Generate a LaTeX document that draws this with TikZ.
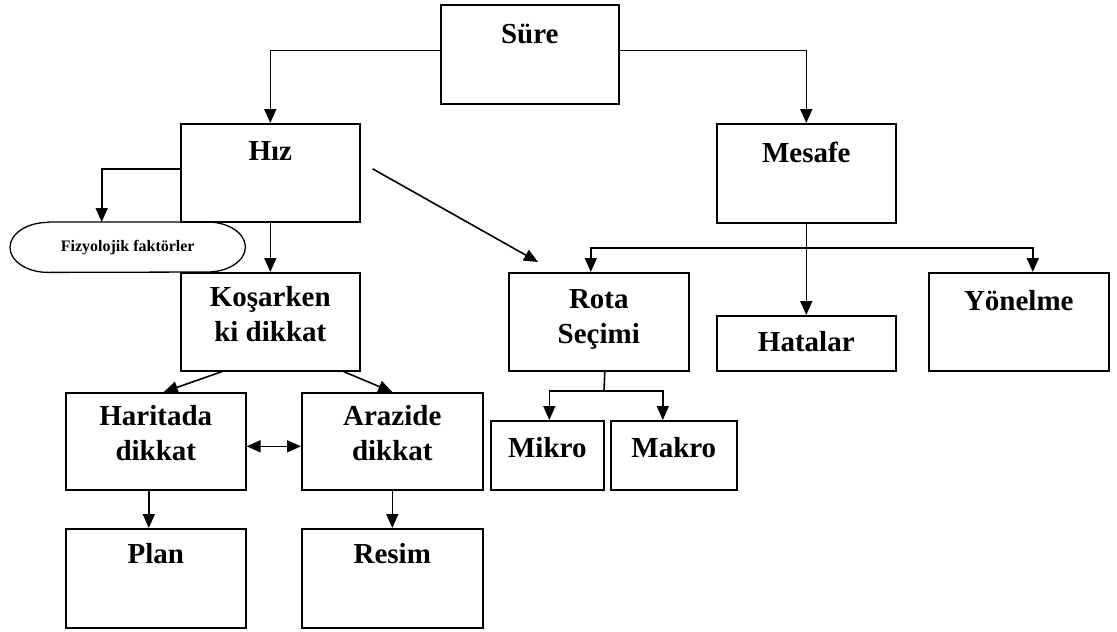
\documentclass[tikz,border=0pt]{standalone}
\usepackage{fontspec}
\setmainfont{Liberation Serif}
\usetikzlibrary{arrows.meta}
\begin{document}
\begin{tikzpicture}[x=1pt,y=-1pt,
  box/.style={draw, line width=1.6pt, inner sep=0pt, anchor=north west},
  lbl/.style={font=\bfseries\fontsize{29}{35}\selectfont, align=center, anchor=base, inner sep=0pt},
  small/.style={font=\bfseries\fontsize{16}{18}\selectfont, inner sep=0pt},
  arr/.style={line width=1.6pt, -{Triangle[width=12pt,length=14pt]}},
  darr/.style={line width=1.6pt, {Triangle[width=12pt,length=14pt]}-{Triangle[width=12pt,length=14pt]}},
  ln/.style={line width=1.6pt}]
\useasboundingbox (0,0) rectangle (1117,632);
% boxes
\node[box, minimum width=178pt, minimum height=99pt] (sure) at (440,4) {};
\node[box, minimum width=179pt, minimum height=98pt] (hiz) at (180,123) {};
\node[box, minimum width=179pt, minimum height=99pt] (mesafe) at (716,123) {};
\node[inner sep=0pt, minimum width=235pt, minimum height=50pt, anchor=north west] (fiz) at (10,222) {};
\node[box, minimum width=179pt, minimum height=98pt] (kos) at (180,272) {};
\node[box, minimum width=180pt, minimum height=98pt] (rota) at (508,272) {};
\node[box, minimum width=179pt, minimum height=55pt] (hatalar) at (716,315) {};
\node[box, minimum width=180pt, minimum height=98pt] (yon) at (928,272) {};
\node[box, minimum width=180pt, minimum height=97pt] (har) at (65,392) {};
\node[box, minimum width=181pt, minimum height=97pt] (ara) at (301,392) {};
\node[box, minimum width=113pt, minimum height=69pt] (mikro) at (490,420) {};
\node[box, minimum width=126pt, minimum height=69pt] (makro) at (610,420) {};
\node[box, minimum width=180pt, minimum height=99pt] (plan) at (65,528) {};
\node[box, minimum width=181pt, minimum height=99pt] (resim) at (301,528) {};
% ellipse-like shape
\draw[line width=1.3pt] ([xshift=38pt]fiz.north west) -- ([xshift=-38pt]fiz.north east)
  arc[start angle=90, end angle=-90, x radius=38pt, y radius=25pt]
  -- ([xshift=38pt]fiz.south west)
  arc[start angle=270, end angle=90, x radius=38pt, y radius=25pt] -- cycle;
% labels (base = baseline of last line)
\node[lbl] (sureT) at ([yshift=-39pt]sure.north) {Süre};
\node[lbl] (hizT) at ([yshift=-37pt]hiz.north) {Hız};
\node[lbl] (mesafeT) at ([yshift=-39pt]mesafe.north) {Mesafe};
\node[small] (fizT) at (fiz.center) {Fizyolojik faktörler};
\node[lbl] (kosT) at ([yshift=-69pt]kos.north) {Koşarken\\ki dikkat};
\node[lbl] (rotaT) at ([yshift=-71pt]rota.north) {Rota\\Seçimi};
\node[lbl] (hatalarT) at ([yshift=-36pt]hatalar.north) {Hatalar};
\node[lbl] (yonT) at ([yshift=-38pt]yon.north) {Yönelme};
\node[lbl] (harT) at ([yshift=-68pt]har.north) {Haritada\\dikkat};
\node[lbl] (araT) at ([yshift=-68pt]ara.north) {Arazide\\dikkat};
\node[lbl] (mikroT) at ([yshift=-37pt]mikro.north) {Mikro};
\node[lbl] (makroT) at ([yshift=-37pt]makro.north) {Makro};
\node[lbl] (planT) at ([yshift=-35pt]plan.north) {Plan};
\node[lbl] (resimT) at ([yshift=-35pt]resim.north) {Resim};
% coordinates
\coordinate (mj) at (807,248);
\coordinate (rj) at (604,391);
\coordinate (rotaIn) at (538,262);
% connectors
\draw[arr] ([yshift=4pt]sure.west) -| (hiz.north);
\draw[arr] ([yshift=4pt]sure.east) -| (mesafe.north);
\draw[arr] ([yshift=4pt]hiz.west) -| ([xshift=-26pt]fiz.north);
\draw[arr] (hiz.south) -- (kos.north);
\draw[arr] ([xshift=12pt,yshift=4pt]hiz.east) -- (rotaIn);
\draw[arr] (mesafe.south) -- (hatalar.north);
\draw[arr] (mj) -| ([xshift=-8pt]rota.north);
\draw[arr] (mj) -| ([xshift=14pt]yon.north);
\draw[arr] ([xshift=42pt]kos.south west) -- ([xshift=8pt]har.north);
\draw[arr] ([xshift=-17pt]kos.south east) -- (ara.north);
\draw[darr] ([yshift=-5pt]har.east) -- ([yshift=-5pt]ara.west);
\draw[arr] ([xshift=-7pt]har.south) -- ([xshift=-7pt]plan.north);
\draw[arr] (ara.south) -- (resim.north);
\draw[ln] ([xshift=6pt]rota.south) -- (rj);
\draw[arr] (rj) -| ([xshift=2pt]mikro.north);
\draw[arr] (rj) -| ([xshift=-11pt]makro.north);
\end{tikzpicture}
\end{document}
